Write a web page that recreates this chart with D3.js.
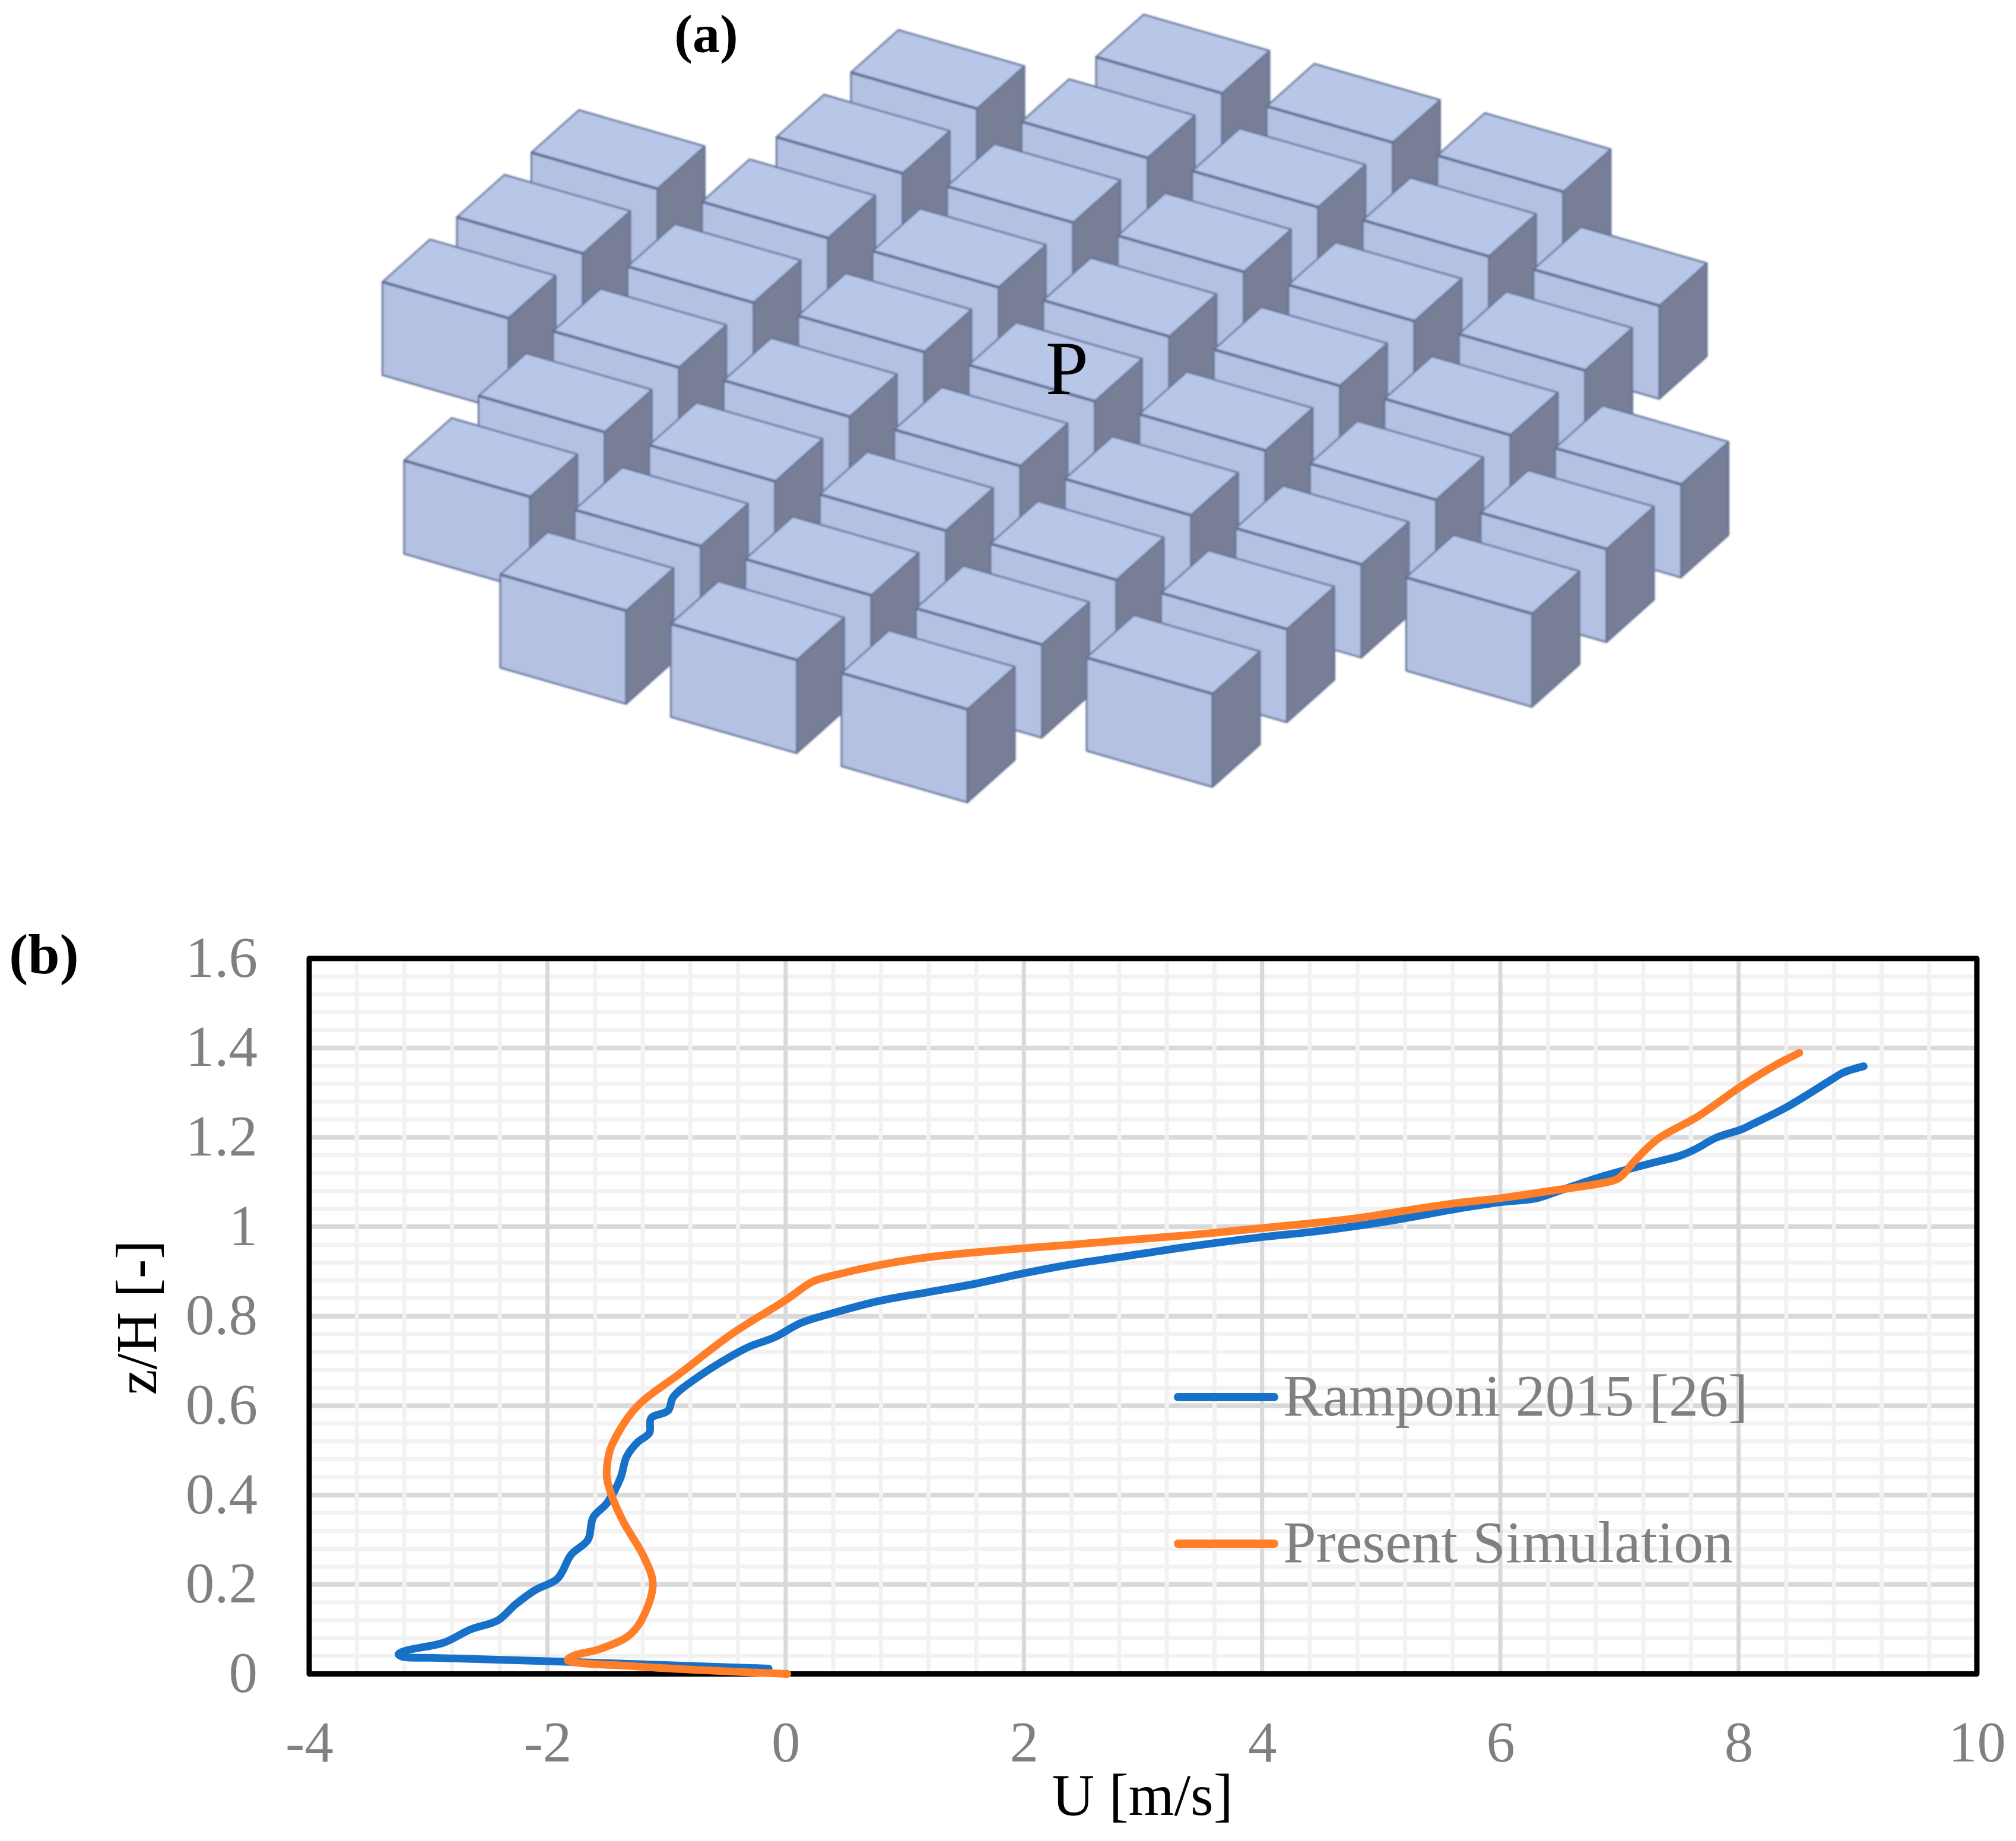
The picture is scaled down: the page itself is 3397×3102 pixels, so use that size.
<!DOCTYPE html>
<html>
<head>
<meta charset="utf-8">
<style>
html,body{margin:0;padding:0;background:#fff}
svg{display:block}
text{font-family:"Liberation Serif",serif}
</style>
<script src="https://cdn.jsdelivr.net/npm/d3@7/dist/d3.min.js"></script>
</head>
<body>
<svg id="fig" width="3397" height="3102" viewBox="0 0 3397 3102"></svg>
<script>
// ---- chart (b) data ----
const rampU = [-0.143,-1.816,-2.96,-3.217,-3.25,-3.19,-2.87,-2.645,-2.416,-2.27,-2.10,-1.916,-1.80,-1.66,-1.616,-1.50,-1.387,-1.335,-1.244,-1.144,-1.13,-0.987,-0.944,-0.758,-0.329,-0.10,0.129,0.396,0.80,1.2,1.6,2,2.4,2.8,3.37,4,4.4,4.8,5.2,5.6,6,6.29,6.49,6.8,7.05,7.28,7.51,7.64,7.81,8.03,8.12,8.40,8.78,8.88,9.05];
const rampZ = [0.012,0.027,0.036,0.0385,0.044,0.052,0.07,0.0995,0.12,0.155,0.188,0.213,0.267,0.30,0.35,0.382,0.438,0.486,0.518,0.539,0.572,0.589,0.619,0.66,0.729,0.752,0.785,0.807,0.835,0.854,0.873,0.896,0.916,0.932,0.955,0.977,0.988,1.002,1.019,1.0385,1.055,1.063,1.08,1.108,1.127,1.143,1.159,1.174,1.199,1.2185,1.23,1.267,1.329,1.345,1.359];
const simU = [0.014,-1.244,-1.83,-1.787,-1.558,-1.33,-1.215,-1.115,-1.187,-1.358,-1.458,-1.50,-1.496,-1.458,-1.258,-0.872,-0.443,0,0.173,0.24,0.396,0.80,1.2,1.6,2,2.4,2.8,3.37,4,4.4,4.8,5.2,5.6,6,6.39,6.976,7.03,7.13,7.32,7.66,8.02,8.30,8.51];
const simZ = [0,0.0166,0.031,0.04,0.056,0.083,0.118,0.20,0.26,0.338,0.397,0.438,0.474,0.512,0.595,0.675,0.762,0.836,0.869,0.879,0.891,0.915,0.932,0.943,0.952,0.96,0.969,0.981,0.997,1.0075,1.0195,1.036,1.052,1.064,1.079,1.106,1.117,1.148,1.196,1.247,1.314,1.36,1.389];
const xTicks = [-4,-2,0,2,4,6,8,10];
const yTicks = [0,0.2,0.4,0.6,0.8,1,1.2,1.4,1.6];
const seriesNames = ["Ramponi 2015 [26]","Present Simulation"];
const seriesColors = ["#1771c9","#ff7e27"];

// ---- panel (a) data: building lattice, one entry per lattice column ----
const blockColumns = [-1,0,1,2,3,4,5];
const blockFirstRow = [2,0,-1,-1,-1,0,2];
const blockLastRow  = [4,6,7,7,7,6,4];

const svg = d3.select("#fig");
svg.append("rect").attr("width",3397).attr("height",3102).attr("fill","#fff");
const defs = svg.append("defs");
defs.append("filter").attr("id","soft").attr("x","-2%").attr("y","-2%").attr("width","104%").attr("height","104%")
  .append("feGaussianBlur").attr("stdDeviation",1.4);

// ---- panel (a) ----
const rowX = d3.scaleLinear().domain([0,1]).range([1434,1434-125.5]);
const rowY = d3.scaleLinear().domain([0,1]).range([122,122+109]);
const colX = d3.scaleLinear().domain([0,1]).range([0,287.5]);
const colY = d3.scaleLinear().domain([0,1]).range([0,83]);
const W = [212,61], D = [80,-71.5], H = 157;

const blocks = [];
blockColumns.forEach((m,i)=>{
  d3.range(blockFirstRow[i],blockLastRow[i]+1).forEach(n=>{
    blocks.push({n,m,x:rowX(n)+colX(m),y:rowY(n)+colY(m)});
  });
});
blocks.sort((p,q)=>d3.ascending(p.y,q.y));

const gA = svg.append("g").attr("filter","url(#soft)");
const poly = pts => pts.map(p=>p.join(",")).join(" ");
const edge = "#65749a";
const b = gA.selectAll("g").data(blocks).join("g");
b.append("polygon").attr("points",d=>poly([[d.x,d.y],[d.x+W[0],d.y+W[1]],[d.x+W[0],d.y+W[1]+H],[d.x,d.y+H]]))
  .attr("fill","#b4c1e3").attr("stroke",edge).attr("stroke-width",3).attr("stroke-linejoin","round");
b.append("polygon").attr("points",d=>poly([[d.x+W[0],d.y+W[1]],[d.x+W[0]+D[0],d.y+W[1]+D[1]],[d.x+W[0]+D[0],d.y+W[1]+D[1]+H],[d.x+W[0],d.y+W[1]+H]]))
  .attr("fill","#777e95").attr("stroke",edge).attr("stroke-width",3).attr("stroke-linejoin","round");
b.append("polygon").attr("points",d=>poly([[d.x,d.y],[d.x+W[0],d.y+W[1]],[d.x+W[0]+D[0],d.y+W[1]+D[1]],[d.x+D[0],d.y+D[1]]]))
  .attr("fill","#b8c6e7").attr("stroke",edge).attr("stroke-width",3).attr("stroke-linejoin","round");
b.append("line").attr("x1",d=>d.x).attr("y1",d=>d.y).attr("x2",d=>d.x+W[0]).attr("y2",d=>d.y+W[1])
  .attr("stroke","#5d6c93").attr("stroke-width",4.5);

svg.append("text").attr("x",1190).attr("y",88).attr("text-anchor","middle").attr("font-size",92).attr("font-weight","bold").attr("fill","#000").text("(a)");
svg.append("text").attr("x",1798).attr("y",664).attr("text-anchor","middle").attr("font-size",130).attr("fill","#000").text("P");
svg.append("text").attr("x",74).attr("y",1640).attr("text-anchor","middle").attr("font-size",96).attr("font-weight","bold").attr("fill","#000").text("(b)");

// ---- panel (b) ----
const x = d3.scaleLinear().domain([-4,10]).range([521,3331]);
const y = d3.scaleLinear().domain([0,1.6]).range([2820.5,1615]);

const xMinor = d3.range(-4,10.001,0.4).filter(v=>Math.abs(v/2-Math.round(v/2))>1e-6);
const yMinor = d3.range(0,1.6001,0.04).filter(v=>Math.abs(v/0.2-Math.round(v/0.2))>1e-6);

const grid = svg.append("g");
grid.selectAll("line.hm").data(yTicks).join("line").attr("class","hm")
  .attr("x1",x(-4)).attr("x2",x(10)).attr("y1",d=>y(d)).attr("y2",d=>y(d)).attr("stroke","#d9d9d9").attr("stroke-width",8);
grid.selectAll("line.hn").data(yMinor).join("line").attr("class","hn")
  .attr("x1",x(-4)).attr("x2",x(10)).attr("y1",d=>y(d)).attr("y2",d=>y(d)).attr("stroke","#f2f2f2").attr("stroke-width",7);
grid.selectAll("line.vn").data(xMinor).join("line").attr("class","vn")
  .attr("y1",y(0)).attr("y2",y(1.6)).attr("x1",d=>x(d)).attr("x2",d=>x(d)).attr("stroke","#f2f2f2").attr("stroke-width",7);
grid.selectAll("line.vm").data(xTicks).join("line").attr("class","vm")
  .attr("y1",y(0)).attr("y2",y(1.6)).attr("x1",d=>x(d)).attr("x2",d=>x(d)).attr("stroke","#d9d9d9").attr("stroke-width",7);

svg.append("rect").attr("x",x(-4)).attr("y",y(1.6)).attr("width",x(10)-x(-4)).attr("height",y(0)-y(1.6))
  .attr("fill","none").attr("stroke","#000").attr("stroke-width",9).attr("stroke-linejoin","round");

const xAxis = svg.append("g").attr("transform",`translate(0,${y(0)})`)
  .call(d3.axisBottom(x).tickValues(xTicks).tickFormat(String).tickSize(0).tickPadding(0));
const yAxis = svg.append("g").attr("transform",`translate(${x(-4)},0)`)
  .call(d3.axisLeft(y).tickValues(yTicks).tickFormat(String).tickSize(0).tickPadding(0));
[xAxis,yAxis].forEach(a=>{
  a.select(".domain").remove();
  a.selectAll("line").remove();
  a.selectAll("text").attr("font-family","'Liberation Serif',serif").attr("font-size",97).attr("fill","#808080");
});
xAxis.selectAll("text").attr("dy",null).attr("y",147.5);
yAxis.selectAll("text").attr("dy",null).attr("x",-87).attr("y",30);

const line = d3.line().x(d=>x(d[0])).y(d=>y(d[1])).curve(d3.curveCatmullRom.alpha(0.5));
const seriesData = [d3.zip(rampU,rampZ), d3.zip(simU,simZ)];
svg.append("g").selectAll("path").data(seriesData).join("path")
  .attr("d",line).attr("fill","none").attr("stroke",(d,i)=>seriesColors[i])
  .attr("stroke-width",13).attr("stroke-linecap","round").attr("stroke-linejoin","round");

// legend
const legendY = [2354,2601];
const lg = svg.append("g").selectAll("g").data(seriesNames).join("g");
lg.append("line").attr("x1",1985).attr("x2",2147).attr("y1",(d,i)=>legendY[i]).attr("y2",(d,i)=>legendY[i])
  .attr("stroke",(d,i)=>seriesColors[i]).attr("stroke-width",14).attr("stroke-linecap","round");
lg.append("text").attr("x",2162).attr("y",(d,i)=>legendY[i]+31).attr("font-size",100).attr("fill","#808080").text(d=>d);

// axis titles
svg.append("text").attr("x",1925).attr("y",3058).attr("text-anchor","middle").attr("font-size",99).attr("fill","#000").text("U [m/s]");
svg.append("text").attr("transform","translate(263,2220) rotate(-90)").attr("text-anchor","middle").attr("font-size",97).attr("fill","#000").text("z/H [-]");
</script>
</body>
</html>
